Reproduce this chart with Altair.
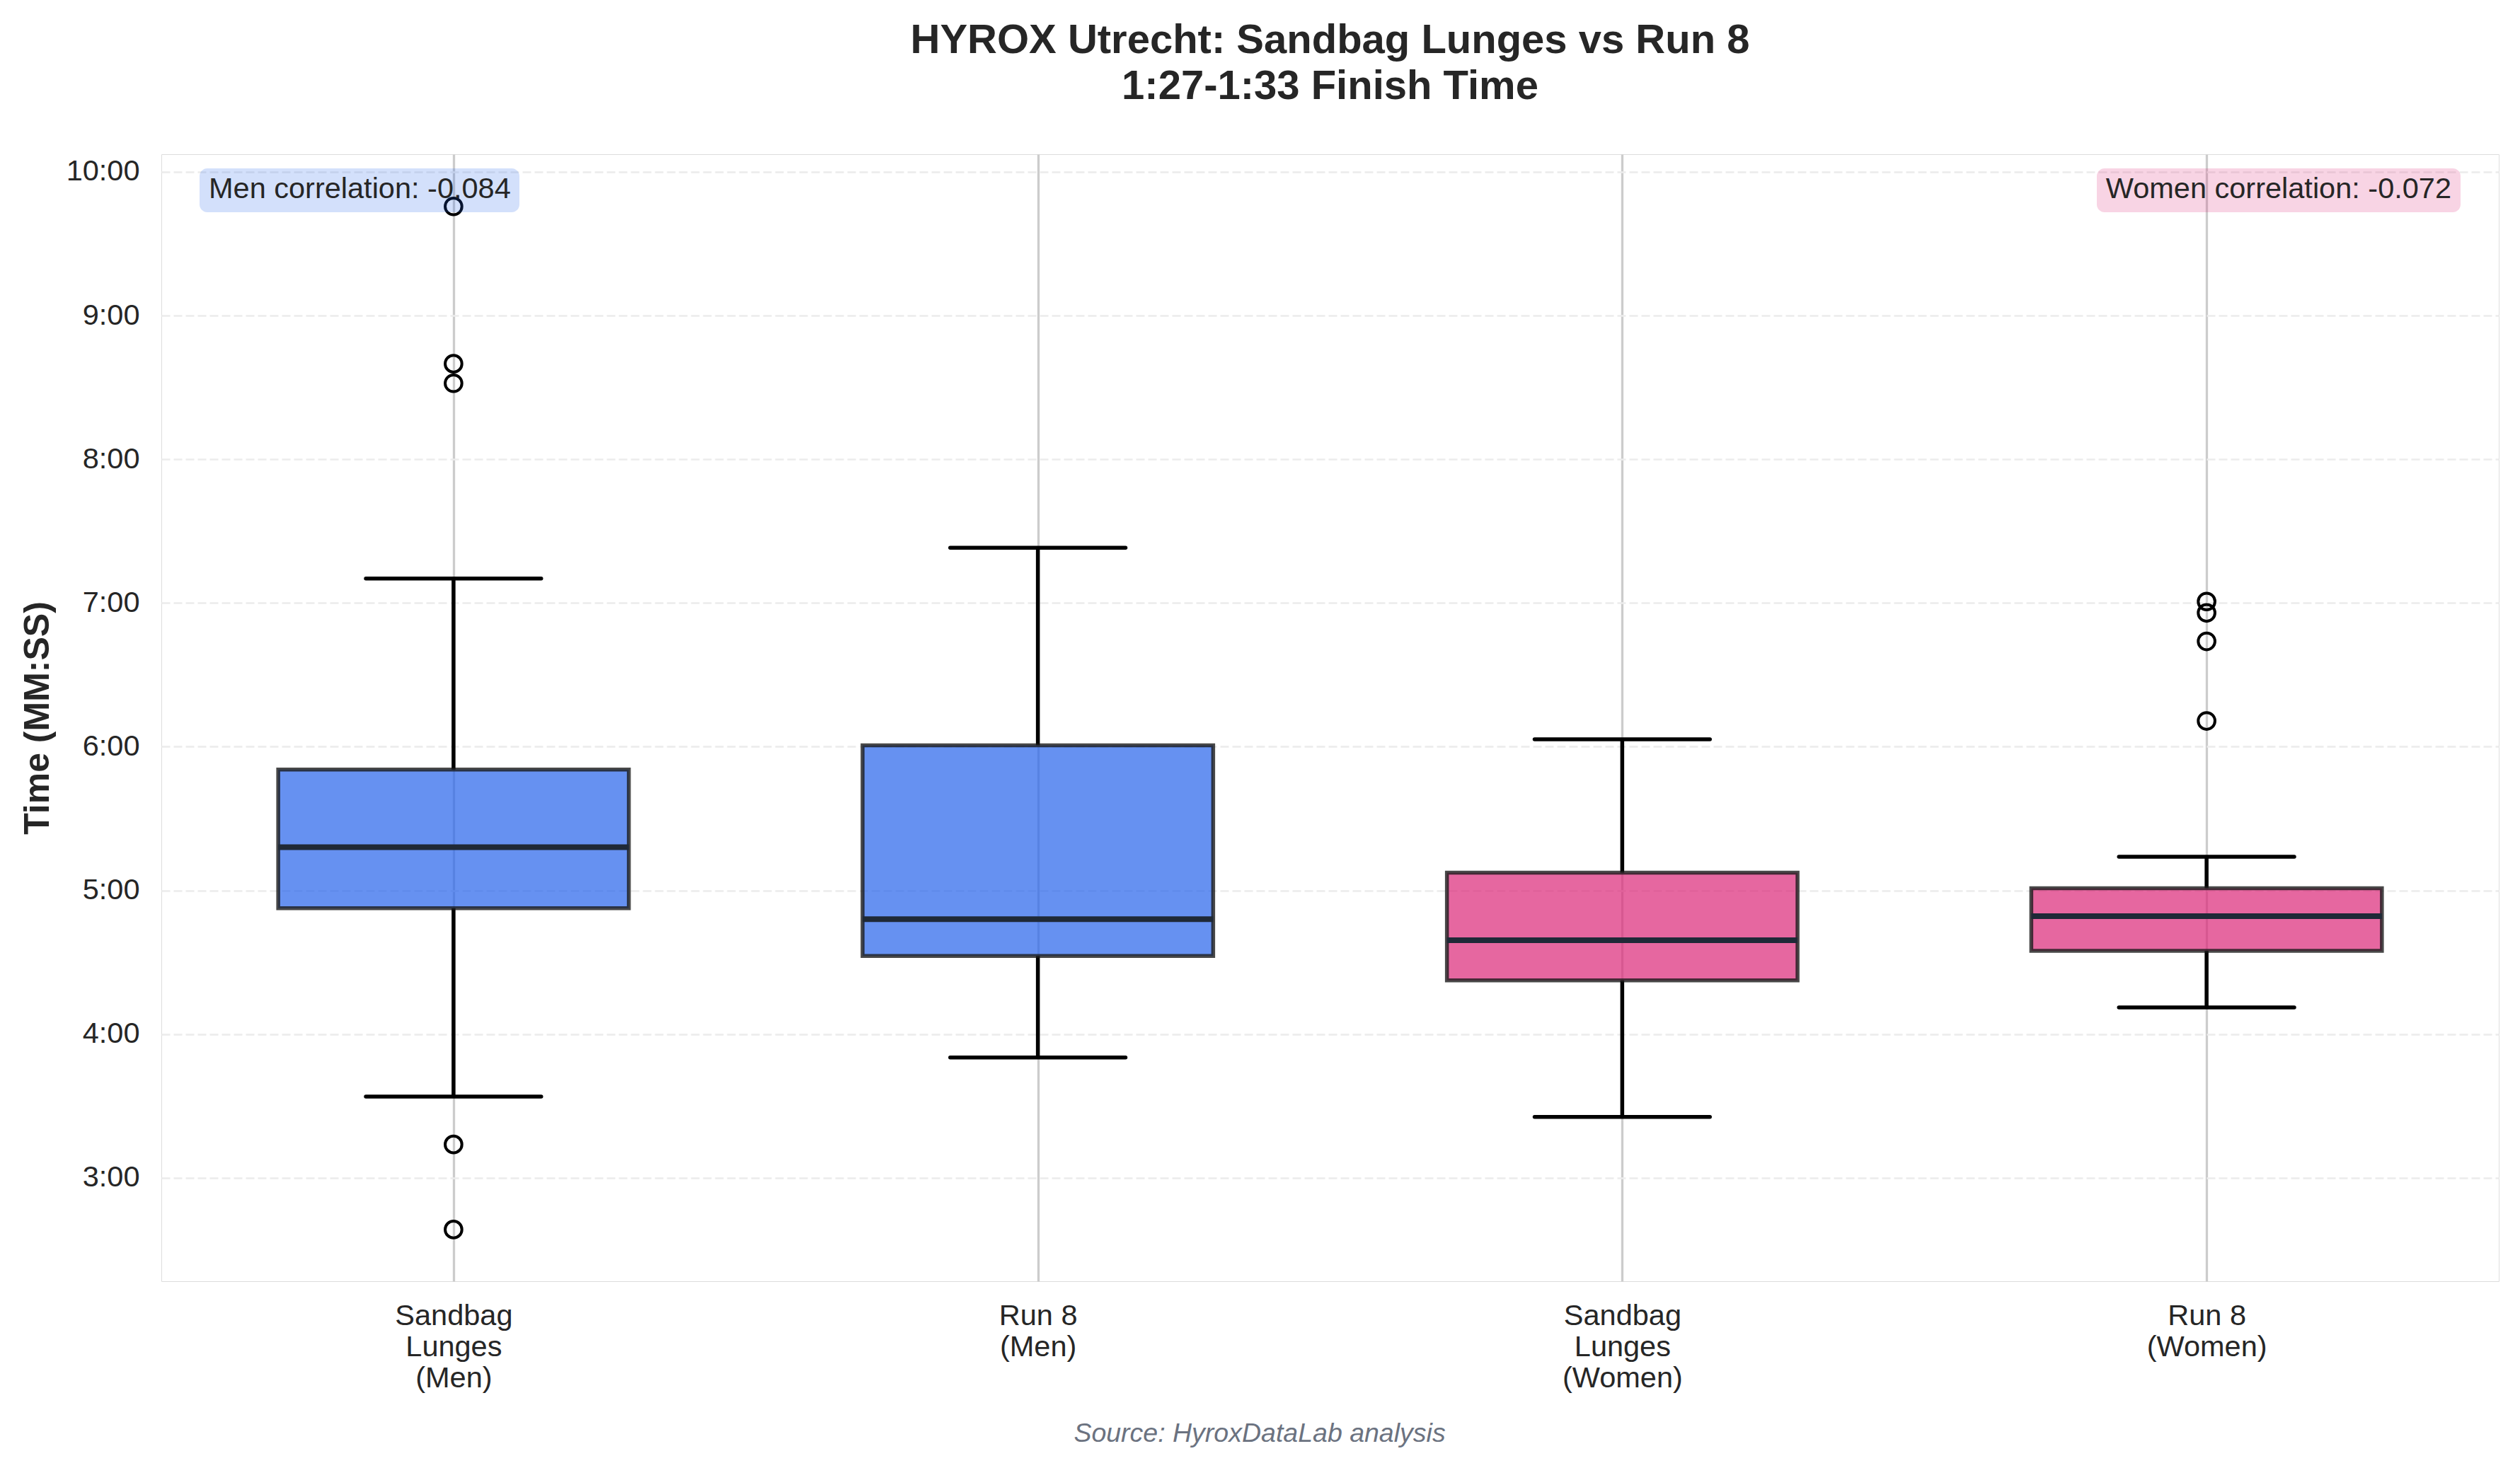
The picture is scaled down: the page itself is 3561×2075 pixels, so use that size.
import altair as alt
import pandas as pd

# ---------------- data ----------------
categories = ["Sandbag\nLunges\n(Men)", "Run 8\n(Men)", "Sandbag\nLunges\n(Women)", "Run 8\n(Women)"]
groups = ["Men", "Men", "Women", "Women"]
q1 = [4.876, 4.544, 4.374, 4.579]
median = [5.300, 4.800, 4.653, 4.821]
q3 = [5.841, 6.010, 5.123, 5.015]
whisker_low = [3.565, 3.837, 3.424, 4.185]
whisker_high = [7.170, 7.384, 6.051, 5.234]

outlier_cat = [0, 0, 0, 0, 0, 3, 3, 3, 3]
outlier_val = [9.760, 8.665, 8.529, 3.232, 2.640, 7.010, 6.931, 6.733, 6.179]

corr_groups = ["Men", "Women"]
corr_values = [-0.084, -0.072]

y_ticks = [3, 4, 5, 6, 7, 8, 9, 10]

title_lines = ["HYROX Utrecht: Sandbag Lunges vs Run 8", "1:27-1:33 Finish Time"]
y_title = "Time (MM:SS)"
source_text = "Source: HyroxDataLab analysis"

# ---------------- tables ----------------
box_df = pd.DataFrame({
    "pos": list(range(1, len(categories) + 1)),
    "group": groups,
    "q1": q1, "median": median, "q3": q3,
    "lo": whisker_low, "hi": whisker_high,
})
out_df = pd.DataFrame({
    "pos": [c + 1 for c in outlier_cat],
    "value": outlier_val,
})
corr_df = pd.DataFrame({
    "group": corr_groups,
    "label": [f"{g} correlation: {v:.3f}" for g, v in zip(corr_groups, corr_values)],
})

FONT = "Liberation Sans"
TXT = "#262626"
W, H = 3303, 1593

colors = alt.Scale(domain=["Men", "Women"], range=["#2563EB", "#DB2777"])

cat_js = "[" + ",".join("'" + c.replace("\n", "|") + "'" for c in categories) + "]"

xscale = alt.Scale(domain=[0.5, 4.5], nice=False, zero=False)
yscale = alt.Scale(domain=[2.28, 10.123], nice=False, zero=False)

x_axis = alt.Axis(
    values=[1, 2, 3, 4], title=None, grid=True, gridColor="#cccccc", gridWidth=3.3,
    ticks=False, domain=False, labelExpr=f"split({cat_js}[round(datum.value)-1], '|')",
    labelFont=FONT, labelFontSize=41.5, labelColor=TXT, labelLineHeight=44,
    labelPadding=28, labelAngle=0, labelBaseline="top",
)
y_axis = alt.Axis(
    values=y_ticks, title=y_title, grid=True, gridColor="#ececec", gridWidth=2.6,
    gridDash=[12, 5], ticks=False, domain=False,
    labelExpr="floor(datum.value) + ':' + (round(datum.value*60)%60 < 10 ? '0' : '') + (round(datum.value*60)%60)",
    labelFont=FONT, labelFontSize=41.5, labelColor=TXT, labelPadding=31,
    titleFont=FONT, titleFontSize=50, titleFontWeight="bold", titleColor=TXT,
    titlePadding=15,
)

base = alt.Chart(box_df)

whisk_lo = base.mark_rule(color="black", strokeWidth=5.5).encode(
    x=alt.X("pos:Q", scale=xscale, axis=x_axis),
    y=alt.Y("lo:Q", scale=yscale, axis=y_axis),
    y2="q1:Q",
)
whisk_hi = base.mark_rule(color="black", strokeWidth=5.5).encode(
    x=alt.X("pos:Q", scale=xscale), y=alt.Y("q3:Q", scale=yscale), y2="hi:Q",
)

caps_base = base.transform_calculate(cl="datum.pos - 0.15", cr="datum.pos + 0.15")
cap_lo = caps_base.mark_rule(color="black", strokeWidth=5.5, strokeCap="round").encode(
    x=alt.X("cl:Q", scale=xscale), x2="cr:Q", y=alt.Y("lo:Q", scale=yscale),
)
cap_hi = caps_base.mark_rule(color="black", strokeWidth=5.5, strokeCap="round").encode(
    x=alt.X("cl:Q", scale=xscale), x2="cr:Q", y=alt.Y("hi:Q", scale=yscale),
)

box_base = base.transform_calculate(bl="datum.pos - 0.3", br="datum.pos + 0.3")
boxes = box_base.mark_rect(fillOpacity=0.7, stroke="#1a1a1a", strokeOpacity=0.8, strokeWidth=5.5).encode(
    x=alt.X("bl:Q", scale=xscale), x2="br:Q",
    y=alt.Y("q1:Q", scale=yscale), y2="q3:Q",
    fill=alt.Fill("group:N", scale=colors, legend=None),
)
medians = box_base.mark_rule(color="#1f2937", strokeWidth=8).encode(
    x=alt.X("bl:Q", scale=xscale), x2="br:Q", y=alt.Y("median:Q", scale=yscale),
)

outliers = alt.Chart(out_df).mark_point(
    shape="circle", filled=False, color="black", strokeWidth=4, size=560, opacity=1
).encode(
    x=alt.X("pos:Q", scale=xscale), y=alt.Y("value:Q", scale=yscale),
)

# correlation annotation boxes (axes-fraction placement)
men_df = corr_df[corr_df.group == "Men"]
wom_df = corr_df[corr_df.group == "Women"]

men_box = alt.Chart(men_df).mark_rect(cornerRadius=11, opacity=0.2).encode(
    x=alt.value(54), x2=alt.value(506), y=alt.value(20), y2=alt.value(82),
    fill=alt.Fill("group:N", scale=colors, legend=None),
)
men_txt = alt.Chart(men_df).mark_text(
    align="left", baseline="alphabetic", font=FONT, fontSize=41.5, color=TXT
).encode(x=alt.value(67), y=alt.value(62), text="label:N")

wom_box = alt.Chart(wom_df).mark_rect(cornerRadius=11, opacity=0.2).encode(
    x=alt.value(2735), x2=alt.value(3249), y=alt.value(20), y2=alt.value(82),
    fill=alt.Fill("group:N", scale=colors, legend=None),
)
wom_txt = alt.Chart(wom_df).mark_text(
    align="right", baseline="alphabetic", font=FONT, fontSize=41.5, color=TXT
).encode(x=alt.value(3236), y=alt.value(62), text="label:N")

source = alt.Chart(pd.DataFrame({"t": [source_text]})).mark_text(
    align="center", baseline="alphabetic", font=FONT, fontSize=37.5,
    fontStyle="italic", color="#6b7280"
).encode(x=alt.value(1552), y=alt.value(H + 227), text="t:N")

chart = alt.layer(
    whisk_lo, whisk_hi, cap_lo, cap_hi, boxes, medians, outliers,
    men_box, wom_box, men_txt, wom_txt, source,
).properties(
    width=W, height=H,
    padding={"left": 220, "top": 210, "right": 20, "bottom": 250},
    autosize=alt.AutoSizeParams(type="none"),
    title=alt.TitleParams(
        text=title_lines, font=FONT, fontSize=58, fontWeight="bold", color=TXT,
        anchor="middle", baseline="bottom", offset=8, lineHeight=65,
    ),
).configure_view(
    stroke="#cccccc", strokeWidth=3,
).configure(background="white")

chart.save("out.html", embed_options={"renderer": "svg", "actions": False})
